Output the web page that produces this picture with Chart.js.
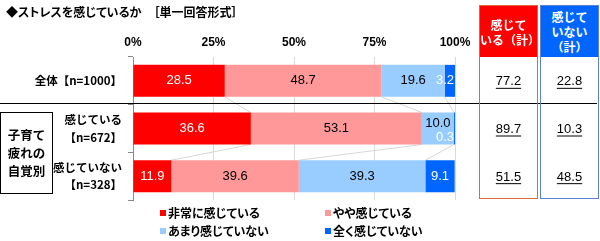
<!DOCTYPE html>
<html>
<head>
<meta charset="utf-8">
<script src="https://cdn.jsdelivr.net/npm/chart.js@4.4.0/dist/chart.umd.min.js"></script>
<style>
  body { margin: 0; background: #fff; font-family: "Noto Sans CJK JP", sans-serif; }
  #wrap { position: relative; width: 600px; height: 241px; overflow: hidden; }
  #c { position: absolute; left: 0; top: 0; }
  .abs { position: absolute; }
  .title { left: 6px; top: 3px; font-size: 12px; font-weight: bold; white-space: pre; line-height: 18px; font-feature-settings: "palt"; }
  .sep { left: 0; top: 103px; width: 597px; height: 1px; background: #000; }
  .group { left: 0; top: 112px; width: 51px; height: 80px; border: 1px solid #000; display: flex; align-items: center; justify-content: center; text-align: center; font-size: 12.5px; font-weight: bold; line-height: 18px; }
  .box { top: 5px; width: 57px; height: 192px; }
  .box .head { height: 51px; color: #fff; font-size: 12px; font-weight: bold; line-height: 15px; display: flex; align-items: center; justify-content: center; text-align: center; }
  .legend { font-size: 12px; font-weight: bold; line-height: 18px; white-space: nowrap; font-feature-settings: "palt"; }
  .legend i { display: inline-block; width: 6px; height: 6px; margin-right: 2px; vertical-align: 2px; }
</style>
</head>
<body>
<div id="wrap">
  <canvas id="c" width="600" height="241"></canvas>
  <div class="abs title">◆ストレスを感じているか　［単一回答形式］</div>
  <div class="abs sep"></div>
  <div class="abs group">子育て<br>疲れの<br>自覚別</div>
  <div class="abs box" style="left:479px;border:1px solid #e2683c;">
    <div class="head" style="background:#ff0000;">感じて<br>いる（計）</div>
  </div>
  <div class="abs box" style="left:540px;border:1px solid #5a82d0;">
    <div class="head" style="background:#0066ff;">感じて<br>いない<br>（計）</div>
  </div>
  <div id="legend"></div>
</div>
<script>
var categories = ['全体【n=1000】', ['感じている', '【n=672】'], ['感じていない', '【n=328】']];
var seriesNames = ['非常に感じている', 'やや感じている', 'あまり感じていない', '全く感じていない'];
var veryMuch = [28.5, 36.6, 11.9];
var somewhat = [48.7, 53.1, 39.6];
var notMuch = [19.6, 10.0, 39.3];
var notAtAll = [3.2, 0.3, 9.1];
var feelTotal = [77.2, 89.7, 51.5];
var notFeelTotal = [22.8, 10.3, 48.5];
var xTicks = [0, 25, 50, 75, 100];

var colors = ['#ff0000', '#ff9999', '#99ccff', '#0066ff'];
var labelColors = ['#fff', '#000', '#000', '#fff'];
// small shifts for crowded labels: dataset-row -> dy
var nudge = { '2-1': -5, '3-1': 9 };
var numFont = '13px "Liberation Sans", Arial, sans-serif';

// legend, 2 x 2
var legendPos = [[160, 204], [325, 204], [160, 222], [325, 222]];
var lg = document.getElementById('legend');
seriesNames.forEach(function (name, i) {
  var el = document.createElement('div');
  el.className = 'abs legend';
  el.style.left = legendPos[i][0] + 'px';
  el.style.top = legendPos[i][1] + 'px';
  el.innerHTML = '<i style="background:' + colors[i] + '"></i>' + name;
  lg.appendChild(el);
});

var connectors = {
  id: 'connectors',
  beforeDatasetsDraw: function (chart) {
    var ctx = chart.ctx;
    ctx.save();
    ctx.strokeStyle = '#d6d6d6';
    ctx.lineWidth = 1;
    for (var d = 0; d < 3; d++) {
      var bars = chart.getDatasetMeta(d).data;
      for (var i = 0; i < bars.length - 1; i++) {
        var a = bars[i], b = bars[i + 1];
        ctx.beginPath();
        ctx.moveTo(a.x, a.y + a.height / 2);
        ctx.lineTo(b.x, b.y - b.height / 2);
        ctx.stroke();
      }
    }
    ctx.restore();
  }
};

var barLabels = {
  id: 'barLabels',
  afterDatasetsDraw: function (chart) {
    var ctx = chart.ctx;
    ctx.save();
    ctx.font = numFont;
    ctx.textBaseline = 'middle';
    chart.data.datasets.forEach(function (ds, d) {
      chart.getDatasetMeta(d).data.forEach(function (bar, i) {
        var v = ds.data[i];
        var x = (bar.x + bar.base) / 2;
        ctx.textAlign = 'center';
        if (v < 5) { x = bar.x - 1; ctx.textAlign = 'right'; }
        ctx.fillStyle = labelColors[d];
        ctx.fillText(v.toFixed(1), x, bar.y + (nudge[d + '-' + i] || 0));
      });
    });
    // totals in the right-hand boxes
    var yScale = chart.scales.y;
    ctx.fillStyle = '#000';
    ctx.strokeStyle = '#000';
    ctx.textAlign = 'center';
    [[feelTotal, 508.5], [notFeelTotal, 569.5]].forEach(function (col) {
      col[0].forEach(function (v, i) {
        var y = yScale.getPixelForValue(i) + 1;
        var t = v.toFixed(1);
        ctx.fillText(t, col[1], y);
        var w = ctx.measureText(t).width;
        ctx.beginPath();
        ctx.moveTo(col[1] - w / 2, y + 6.5);
        ctx.lineTo(col[1] + w / 2, y + 6.5);
        ctx.stroke();
      });
    });
    ctx.restore();
  }
};

var datasets = [veryMuch, somewhat, notMuch, notAtAll].map(function (vals, i) {
  return {
    label: seriesNames[i],
    data: vals,
    backgroundColor: colors[i],
    borderWidth: 0,
    barPercentage: 0.67,
    categoryPercentage: 1
  };
});

new Chart(document.getElementById('c'), {
  type: 'bar',
  data: { labels: categories, datasets: datasets },
  plugins: [connectors, barLabels],
  options: {
    indexAxis: 'y',
    responsive: false,
    animation: false,
    layout: { padding: { left: 0, right: 145, top: 0, bottom: 41 } },
    plugins: { legend: { display: false }, tooltip: { enabled: false } },
    scales: {
      x: {
        position: 'top',
        stacked: true,
        min: 0,
        max: 100,
        afterBuildTicks: function (s) { s.ticks = xTicks.map(function (v) { return { value: v }; }); },
        afterFit: function (s) { s.height = 57; },
        ticks: {
          padding: 7,
          color: '#000',
          font: { size: 12, weight: 'bold', family: '"Liberation Sans", Arial, sans-serif' },
          callback: function (v) { return v + '%'; }
        },
        grid: {
          drawTicks: false,
          color: function (c) { return c.index === 0 ? 'rgba(0,0,0,0)' : '#d9d9d9'; }
        },
        border: { display: false }
      },
      y: {
        stacked: true,
        offset: true,
        afterFit: function (s) { s.width = 133; },
        grid: { offset: true, drawOnChartArea: false, tickLength: 5, color: '#888' },
        border: { color: '#888' },
        ticks: {
          padding: 6,
          color: '#000',
          font: { size: 11.5, weight: 'bold', family: '"Noto Sans CJK JP", sans-serif', lineHeight: 1.5 }
        }
      }
    }
  }
});
</script>
</body>
</html>
